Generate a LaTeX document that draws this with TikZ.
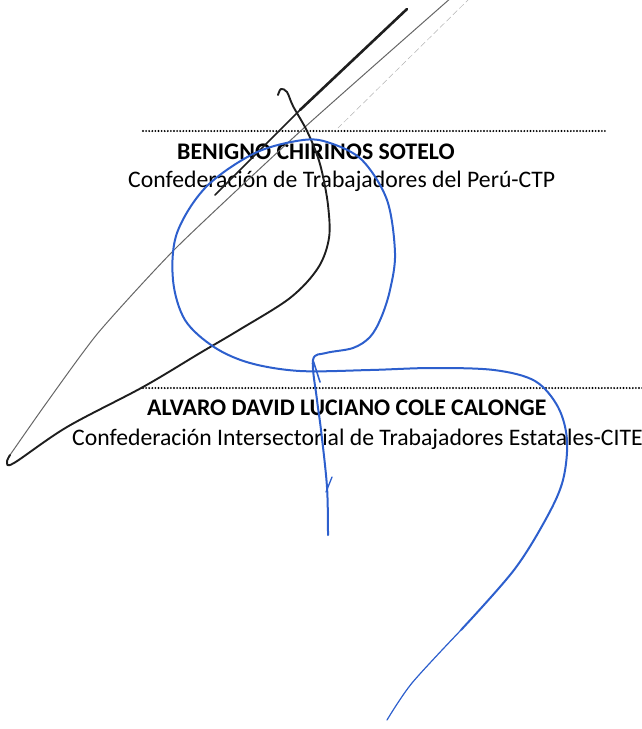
\documentclass[tikz,border=0pt]{standalone}
\usepackage{fontspec}
\setmainfont{Carlito}
\definecolor{inkblue}{RGB}{45,95,205}
\definecolor{inkblack}{RGB}{30,30,30}
\begin{document}
\begin{tikzpicture}[x=1pt,y=-1pt,
  namebold/.style={anchor=base west,inner sep=0pt,font=\bfseries\fontsize{23.8}{28}\selectfont},
  nameorg/.style={anchor=base west,inner sep=0pt,font=\fontsize{23.7}{28}\selectfont},
  dotline/.style={line width=2.1pt,dash pattern=on 0pt off 3.1pt,line cap=round},
  bluepen/.style={draw=inkblue,line width=2pt,line cap=round,line join=round},
  blackpen/.style={draw=inkblack,line width=1.9pt,line cap=round,line join=round},
  thinpen/.style={draw=black!60,line width=1pt,line cap=round,line join=round}]
\useasboundingbox (0,0) rectangle (642,729);
\clip (0,0) rectangle (642,729);
% dotted signature lines
\coordinate (d1a) at (143,131); \coordinate (d1b) at (605,131);
\coordinate (d2a) at (143,388); \coordinate (d2b) at (645,388);
\draw[dotline] (d1a) -- (d1b);
\draw[dotline] (d2a) -- (d2b);
% texts
\node[namebold] (n1) at (177,159) {BENIGNO CHIRINOS SOTELO};
\node[nameorg] (o1) at (128,187) {Confederación de Trabajadores del Perú-CTP};
\node[namebold] (n2) at (147,415) {ALVARO DAVID LUCIANO COLE CALONGE};
\node[nameorg] (o2) at (72,445) {Confederación Intersectorial de Trabajadores Estatales-CITE};
% faint dashed stroke
\coordinate (f1) at (470,-2); \coordinate (f2) at (338,128);
\draw[black!30,line width=0.5pt,dash pattern=on 6pt off 3pt] (f1) -- (f2);
% black signature
\coordinate (t1) at (407,9); \coordinate (t2) at (300,110); \coordinate (t3) at (215,195);
\draw[inkblack,line width=2.6pt,line cap=round] (t1) -- (t2);
\draw[inkblack,line width=1.5pt,line cap=round] (t2) -- (t3);
\draw[thinpen] plot[smooth,tension=0.35] coordinates {(452,-3) (305,127) (177,247) (98,333) (45,405) (10,455)};
\draw[blackpen] plot[smooth,tension=0.55] coordinates {(10,455) (7,462) (14,463) (67,427) (143,387) (200,353) (239,330) (290,298) (318,268) (329,238) (328,205) (322,172) (316,152) (306,129) (293,106) (287,92) (281,89) (278,95)};
% blue signature
\draw[bluepen] plot[smooth,tension=0.55] coordinates {(328,535) (327,487) (321,430) (317,400) (313,360) (326,353) (353,348) (370,337) (381,318) (390,290) (395,253) (387,200) (362,160) (330,143) (303,140) (255,153) (206,187) (177,233) (173,280) (185,320) (214,347) (250,363) (300,371) (370,370) (432,368) (494,370) (535,381) (558,407) (567,440) (563,480) (547,517) (514,570) (461,630)};
\draw[inkblue,line width=1.2pt,line cap=round] plot[smooth,tension=0.5] coordinates {(461,630) (412,683) (387,720)};
\draw[inkblue,line width=1.6pt,line cap=round] (313,360) -- (320,382);
\draw[inkblue,line width=1.3pt,line cap=round] (332,477) -- (326,492);
\end{tikzpicture}
\end{document}
